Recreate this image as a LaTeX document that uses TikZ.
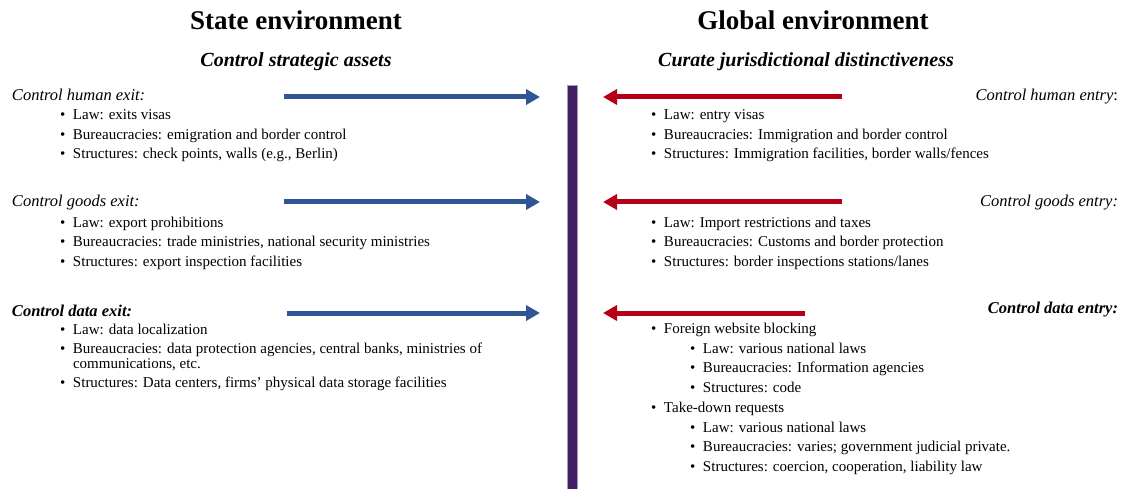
\documentclass[tikz,border=0pt]{standalone}
\usepackage{fontspec}
\setmainfont{Liberation Serif}
\usetikzlibrary{arrows.meta}
\definecolor{stateblue}{RGB}{47,85,151}
\definecolor{globalred}{RGB}{180,0,20}
\definecolor{borderpurple}{RGB}{66,30,100}
\newcommand{\bul}{\makebox[13pt][l]{\textbullet}}
\begin{document}
\begin{tikzpicture}[x=1pt,y=-1pt,inner sep=0pt,outer sep=0pt,
title/.style={font=\fontsize{27}{30}\selectfont\bfseries},
subtitle/.style={font=\fontsize{20}{24}\selectfont\bfseries\itshape,anchor=base},
head/.style={font=\fontsize{16.5}{20}\selectfont\itshape},
item/.style={font=\fontsize{15}{18}\selectfont,anchor=base west},
outarrow/.style={line width=5pt,stateblue,-{Triangle[length=14pt,width=15pt]}},
inarrow/.style={line width=5pt,globalred,-{Triangle[length=14pt,width=15pt]}}]
\useasboundingbox (0,0) rectangle (1124,489);
% headings
\draw (296,20) node[title] (statetitle) {State environment};
\draw (813,20) node[title] (globaltitle) {Global environment};
\draw (296,67) node[subtitle] (statesub) {Control strategic assets};
\draw (806,67) node[subtitle] (globalsub) {Curate jurisdictional distinctiveness};
% the border between the two
\draw (572,287) node[fill=borderpurple,draw=borderpurple!45,line width=0.8pt,
  minimum width=10pt,minimum height=404pt] (border) {};
% state side: exits
\draw (12,101) node[head,anchor=base west] (humexit) {Control human exit:};
\draw (60,120) node[item] (hx1) {\bul Law: exits visas};
\draw (60,139.5) node[item] (hx2) {\bul Bureaucracies: emigration and border control};
\draw (60,159) node[item] (hx3) {\bul Structures: check points, walls (e.g., Berlin)};
\draw (12,207) node[head,anchor=base west] (goodexit) {Control goods exit:};
\draw (60,227) node[item] (gx1) {\bul Law: export prohibitions};
\draw (60,246.5) node[item] (gx2) {\bul Bureaucracies: trade ministries, national security ministries};
\draw (60,266) node[item] (gx3) {\bul Structures: export inspection facilities};
\draw (12,316) node[head,font=\fontsize{16.5}{20}\selectfont\bfseries\itshape,anchor=base west] (dataexit) {Control data exit:};
\draw (60,334) node[item] (dx1) {\bul Law: data localization};
\draw (60,353) node[item] (dx2) {\bul Bureaucracies: data protection agencies, central banks, ministries of};
\draw (73,368) node[item] (dx2b) {communications, etc.};
\draw (60,387) node[item] (dx3) {\bul Structures: Data centers, firms’ physical data storage facilities};
% global side: entries
\draw (1118,101) node[head,anchor=base east] (humentry) {Control human entry\textup{:}};
\draw (651,120) node[item] (he1) {\bul Law: entry visas};
\draw (651,139.5) node[item] (he2) {\bul Bureaucracies: Immigration and border control};
\draw (651,159) node[item] (he3) {\bul Structures: Immigration facilities, border walls/fences};
\draw (1118,207) node[head,anchor=base east] (goodentry) {Control goods entry:};
\draw (651,227) node[item] (ge1) {\bul Law: Import restrictions and taxes};
\draw (651,246.5) node[item] (ge2) {\bul Bureaucracies: Customs and border protection};
\draw (651,266) node[item] (ge3) {\bul Structures: border inspections stations/lanes};
\draw (1118,313) node[head,font=\fontsize{16.5}{20}\selectfont\bfseries\itshape,anchor=base east] (dataentry) {Control data entry:};
\draw (651,333) node[item] (block) {\bul Foreign website blocking};
\draw (690,353) node[item] (block1) {\bul Law: various national laws};
\draw (690,372.5) node[item] (block2) {\bul Bureaucracies: Information agencies};
\draw (690,392) node[item] (block3) {\bul Structures: code};
\draw (651,412) node[item] (takedown) {\bul Take-down requests};
\draw (690,432) node[item] (take1) {\bul Law: various national laws};
\draw (690,451.5) node[item] (take2) {\bul Bureaucracies: varies; government judicial private.};
\draw (690,471) node[item] (take3) {\bul Structures: coercion, cooperation, liability law};
% arrows towards the border
\coordinate (hxs) at (284,97);
\coordinate (gxs) at (284,202);
\coordinate (dxs) at (287,313);
\coordinate (hes) at (842,97);
\coordinate (ges) at (842,202);
\coordinate (des) at (805,313);
\draw[outarrow] (hxs) -- ([xshift=-27pt]border.west |- hxs);
\draw[outarrow] (gxs) -- ([xshift=-27pt]border.west |- gxs);
\draw[outarrow] (dxs) -- ([xshift=-27pt]border.west |- dxs);
\draw[inarrow] (hes) -- ([xshift=26pt]border.east |- hes);
\draw[inarrow] (ges) -- ([xshift=26pt]border.east |- ges);
\draw[inarrow] (des) -- ([xshift=26pt]border.east |- des);
\end{tikzpicture}
\end{document}
